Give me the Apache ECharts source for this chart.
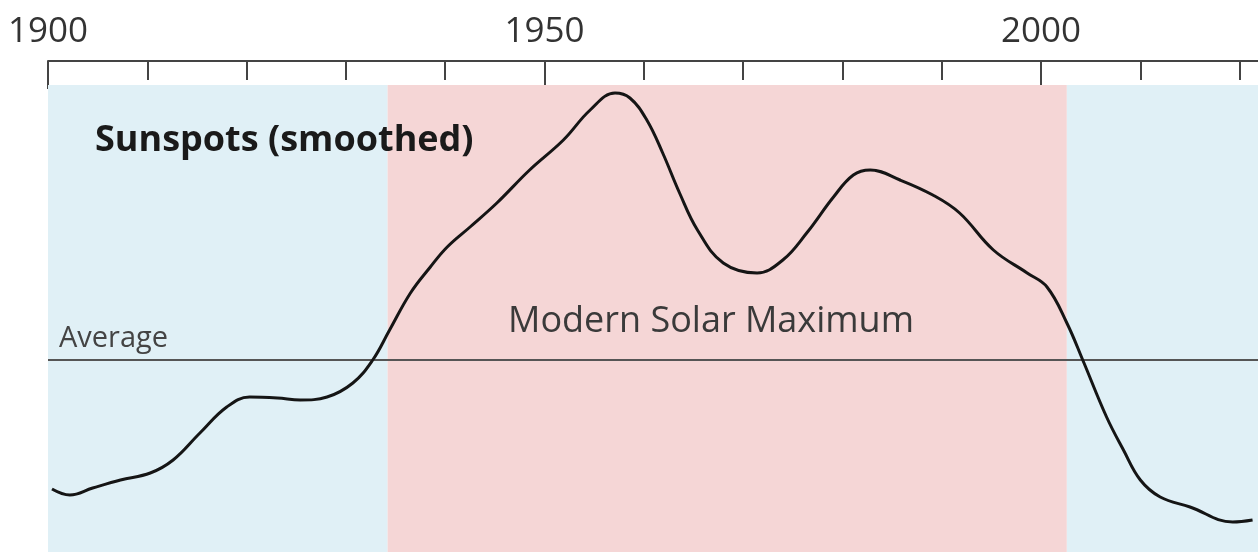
<!DOCTYPE html>
<html>
<head>
<meta charset="utf-8">
<title>Sunspots (smoothed)</title>
<script src="https://cdn.jsdelivr.net/npm/echarts@6/dist/echarts.min.js"></script>
<style>
  html, body { margin: 0; padding: 0; background: #fff; }
  #chart { width: 1258px; height: 552px; }
</style>
</head>
<body>
<div id="chart"></div>
<script>
// years of the smoothed curve
const years = [1900.4, 1902.2, 1904.5, 1907.3, 1910.3, 1912.6, 1915.3, 1918.0, 1920.3, 1923.1,
    1925.4, 1928.1, 1930.7, 1932.7, 1934.4, 1936.5, 1938.5, 1940.2, 1942.5, 1945.2,
    1948.5, 1951.9, 1954.6, 1957.1, 1958.6, 1960.3, 1961.9, 1963.6, 1965.4, 1968.0,
    1971.4, 1974.0, 1976.4, 1979.1, 1981.1, 1982.8, 1985.8, 1989.1, 1991.8, 1995.2,
    1998.6, 2000.6, 2002.6, 2004.2, 2006.6, 2008.3, 2010.0, 2012.0, 2015.0, 2019.3, 2021.3];
// sunspots relative to the average (arbitrary units, 0 = average)
const sunspots = [-129, -135, -128, -120, -113, -100, -73, -47, -37, -38,
    -40, -37, -23, 0, 30, 67, 93, 113, 133, 157,
    190, 220, 250, 267, 262, 240, 207, 167, 130, 97,
    87, 100, 127, 163, 185, 190, 180, 165, 147, 110,
    87, 73, 37, 0, -57, -90, -120, -137, -147, -162, -160];

// background periods: quiet / modern maximum / quiet
const periodEdges = [1900, 1934.2, 2002.6, 2022.05];
const periodNames = ['', 'Modern Solar Maximum', ''];
const averageValue = 0;

const labelYears = [1900, 1950, 2000];

const fontFamily = '"Open Sans", "Noto Sans", sans-serif';

var periodColors = ['#e0f0f6', '#f5d6d6', '#e0f0f6'];
var areaData = [];
for (var i = 0; i < periodNames.length; i++) {
    areaData.push([
        { xAxis: periodEdges[i], itemStyle: { color: periodColors[i] } },
        { xAxis: periodEdges[i + 1] }
    ]);
}

var lineData = years.map(function (y, i) { return [y, sunspots[i]]; });

var option = {
    animation: false,
    backgroundColor: '#fff',
    textStyle: { fontFamily: fontFamily },
    grid: { left: 48, width: 1212, top: 85, bottom: 0, outerBoundsMode: 'none', containLabel: false },
    xAxis: [
        {
            type: 'value',
            position: 'top',
            offset: 24,
            min: periodEdges[0],
            max: periodEdges[periodEdges.length - 1],
            interval: 10,
            axisLine: { show: true, onZero: false, lineStyle: { color: '#444', width: 2 } },
            axisTick: { show: true, inside: true, length: 19, lineStyle: { color: '#444', width: 2 } },
            axisLabel: { show: false },
            splitLine: { show: false }
        },
        {
            type: 'value',
            position: 'top',
            offset: 24,
            min: periodEdges[0],
            max: periodEdges[periodEdges.length - 1],
            interval: 50,
            axisLine: { show: false, onZero: false },
            axisTick: { show: true, inside: true, length: 28, lineStyle: { color: '#444', width: 2 } },
            axisLabel: {
                show: true,
                margin: 11,
                fontSize: 35,
                color: '#333',
                fontFamily: fontFamily,
                formatter: function (v) {
                    return labelYears.indexOf(v) >= 0 ? String(v) : '';
                }
            },
            splitLine: { show: false }
        }
    ],
    yAxis: {
        type: 'value',
        min: -192,
        max: 275,
        show: false,
        splitLine: { show: false }
    },
    graphic: [
        {
            type: 'text',
            left: 95,
            top: 123,
            style: {
                text: 'Sunspots (smoothed)',
                fontSize: 36,
                fontWeight: 'bold',
                fontFamily: fontFamily,
                fill: '#1a1a1a'
            },
            z: 10
        },
        {
            type: 'text',
            left: 508,
            top: 304,
            style: {
                text: periodNames[1],
                fontSize: 36,
                fontFamily: fontFamily,
                fill: '#3a3a3a'
            },
            z: 10
        }
    ],
    series: [
        {
            name: 'Sunspots',
            type: 'line',
            xAxisIndex: 0,
            data: lineData,
            smooth: 0.4,
            showSymbol: false,
            lineStyle: { color: '#151515', width: 3 },
            z: 5,
            markArea: {
                silent: true,
                z: 1,
                data: areaData
            },
            markLine: {
                silent: true,
                symbol: 'none',
                lineStyle: { color: '#555', width: 2, type: 'solid' },
                label: {
                    show: true,
                    position: 'insideStartTop',
                    formatter: 'Average',
                    fontSize: 29,
                    color: '#444',
                    fontFamily: fontFamily,
                    distance: [11, 7]
                },
                data: [{ yAxis: averageValue }]
            }
        }
    ]
};

var myChart = echarts.init(document.getElementById('chart'));
myChart.setOption(option);
</script>
</body>
</html>
